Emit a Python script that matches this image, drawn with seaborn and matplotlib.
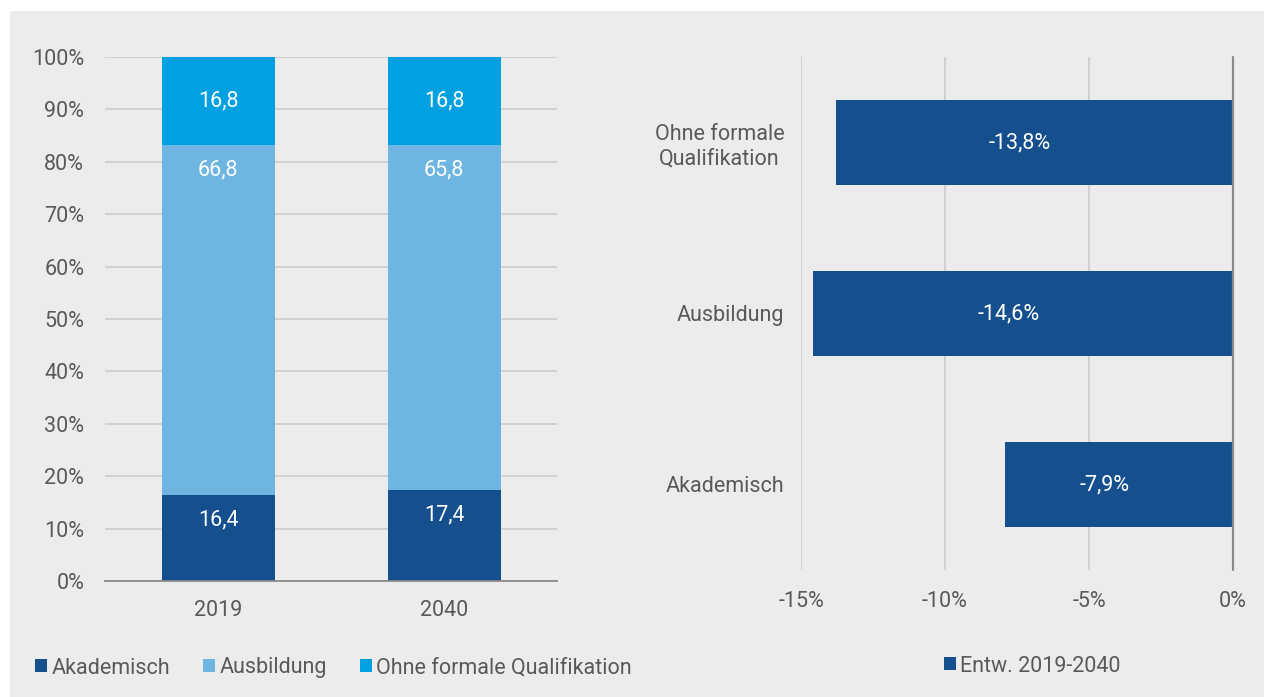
import matplotlib
matplotlib.use("Agg")
import matplotlib.pyplot as plt
from matplotlib.patches import Patch, Rectangle
import seaborn as sns
import pandas as pd

# Shares of qualification levels (percent)
years = ["2019", "2040"]
akademisch = [16.4, 17.4]
ausbildung = [66.8, 65.8]
ohne_qual = [16.8, 16.8]

# Change 2019-2040 by qualification level (percent)
groups = ["Ohne formale\nQualifikation", "Ausbildung", "Akademisch"]
entwicklung = [-13.8, -14.6, -7.9]

series_names = ["Akademisch", "Ausbildung", "Ohne formale Qualifikation"]
c_akad = "#154f8e"
c_ausb = "#6fb5e1"
c_ohne = "#00a0e1"
text_col = "#595959"
grid_col = "#cfcfcf"
axis_col = "#8a8a8a"
bg_col = "#ececec"

sns.set_theme(style="white")
plt.rcParams["font.family"] = ["Roboto", "DejaVu Sans"]
FS = 15.5

W, H = 1264, 697
fig = plt.figure(figsize=(W / 100, H / 100), dpi=100, facecolor="white")
fig.patches.append(Rectangle((10 / W, 0), 1 - 10 / W, (H - 11) / H,
                             transform=fig.transFigure, facecolor=bg_col,
                             edgecolor="none", zorder=-10))

def fmt(v):
    return f"{v:.1f}".replace(".", ",")

# ---- left: stacked 100% columns ----
ax1 = fig.add_axes([105 / W, (H - 581) / H, 452 / W, 524 / H])
ax1.set_facecolor("none")
top_ausb = [a + b for a, b in zip(akademisch, ausbildung)]
top_all = [t + c for t, c in zip(top_ausb, ohne_qual)]
layers = [(top_all, c_ohne), (top_ausb, c_ausb), (akademisch, c_akad)]
for vals, col in layers:
    df = pd.DataFrame({"Jahr": years, "Wert": vals})
    sns.barplot(data=df, x="Jahr", y="Wert", color=col, width=0.5,
                saturation=1, ax=ax1, zorder=3, errorbar=None,
                edgecolor="none", linewidth=0)

for i in range(len(years)):
    ax1.text(i, top_all[i] - ohne_qual[i] / 2, fmt(ohne_qual[i]), ha="center",
             va="center", color="white", fontsize=FS, zorder=5)
    ax1.text(i, top_ausb[i] - 4.8, fmt(ausbildung[i]), ha="center",
             va="center", color="white", fontsize=FS, zorder=5)
    ax1.text(i, akademisch[i] - 4.8, fmt(akademisch[i]), ha="center",
             va="center", color="white", fontsize=FS, zorder=5)

ax1.set_xlim(-0.5, 1.5)
ax1.set_ylim(0, 100)
ax1.set_yticks(range(0, 101, 10))
ax1.set_yticklabels([f"{t}%" for t in range(0, 101, 10)])
ax1.yaxis.grid(True, color=grid_col, linewidth=1.3, zorder=1)
ax1.set_axisbelow(True)
for s in ["top", "right", "left"]:
    ax1.spines[s].set_visible(False)
ax1.spines["bottom"].set_color(axis_col)
ax1.spines["bottom"].set_linewidth(1.3)
ax1.spines["bottom"].set_zorder(4)
ax1.tick_params(axis="y", length=0, pad=15, labelsize=FS, labelcolor=text_col)
ax1.tick_params(axis="x", length=0, pad=14, labelsize=FS, labelcolor=text_col)
ax1.set_xlabel("")
ax1.set_ylabel("")

ax1.legend(handles=[Patch(facecolor=c, edgecolor="none") for c in (c_akad, c_ausb, c_ohne)],
           labels=series_names, loc="center left",
           bbox_to_anchor=(35 / W, (H - 668) / H), bbox_transform=fig.transFigure,
           ncol=3, frameon=False, fontsize=FS, labelcolor=text_col,
           handlelength=0.55, handleheight=0.55, handletextpad=0.2,
           columnspacing=1.55, borderpad=0, borderaxespad=0)

# ---- right: horizontal change bars ----
ax2 = fig.add_axes([801 / W, (H - 570) / H, 432 / W, 513 / H])
ax2.set_facecolor("none")
df2 = pd.DataFrame({"Gruppe": groups, "Wert": entwicklung})
sns.barplot(data=df2, x="Wert", y="Gruppe", orient="h", color=c_akad,
            width=0.5, saturation=1, ax=ax2, zorder=3, errorbar=None,
            edgecolor="none", linewidth=0)
for i, v in enumerate(entwicklung):
    ax2.text(v / 2 - 0.5, i, fmt(v) + "%", ha="center", va="center",
             color="white", fontsize=FS, zorder=5)

ax2.set_xlim(-15, 0)
ax2.set_ylim(2.5, -0.5)
ax2.set_xticks([-15, -10, -5, 0])
ax2.set_xticklabels(["-15%", "-10%", "-5%", "0%"])
ax2.xaxis.grid(True, color=grid_col, linewidth=1.3, zorder=1)
ax2.set_axisbelow(True)
ax2.axvline(0, color=axis_col, linewidth=1.6, zorder=4, clip_on=False)
for s in ["top", "right", "left", "bottom"]:
    ax2.spines[s].set_visible(False)
ax2.tick_params(axis="x", length=0, pad=15, labelsize=FS, labelcolor=text_col)
ax2.tick_params(axis="y", length=0, pad=12, labelsize=FS, labelcolor=text_col)
for lab in ax2.get_yticklabels():
    lab.set_multialignment("center")
ax2.set_xlabel("")
ax2.set_ylabel("")

ax2.legend(handles=[Patch(facecolor=c_akad, edgecolor="none")],
           labels=["Entw. 2019-2040"], loc="center left",
           bbox_to_anchor=(944 / W, (H - 666) / H), bbox_transform=fig.transFigure,
           frameon=False, fontsize=FS, labelcolor=text_col,
           handlelength=0.55, handleheight=0.55, handletextpad=0.2,
           borderpad=0, borderaxespad=0)

fig.savefig("out.png", dpi=100, facecolor="white")
